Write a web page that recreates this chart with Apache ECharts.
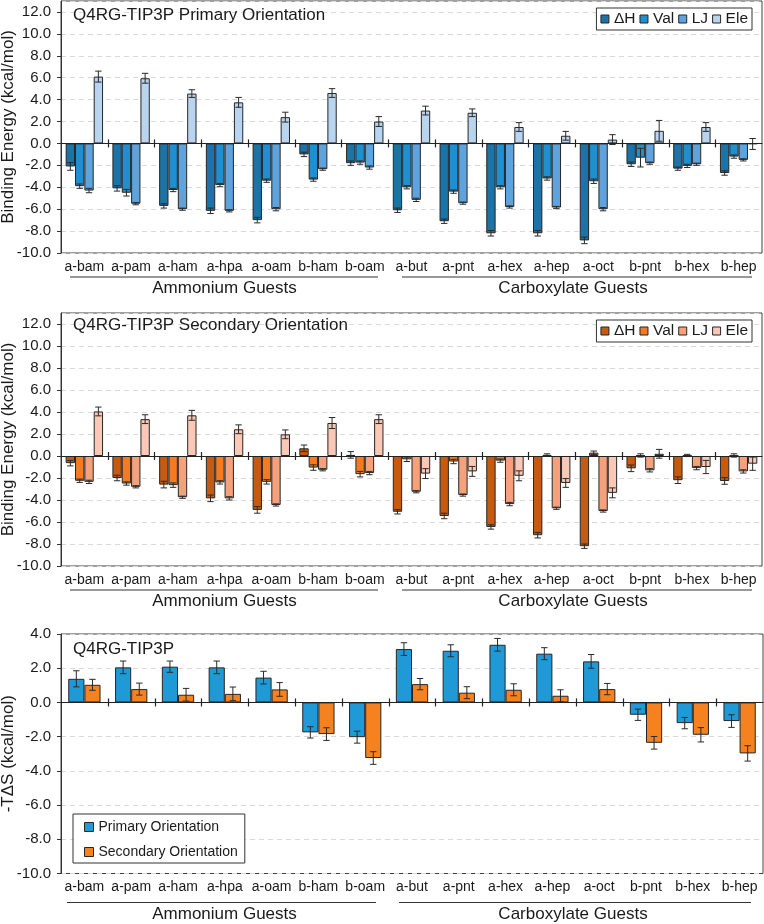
<!DOCTYPE html>
<html><head><meta charset="utf-8">
<script src="https://cdn.jsdelivr.net/npm/echarts@6/dist/echarts.min.js"></script>
<style>html,body{margin:0;padding:0;background:#fff}#c{width:764px;height:924px}</style>
</head><body><div id="c"></div><script>
// ---------- data ----------
const categories = ['a-bam','a-pam','a-ham','a-hpa','a-oam','b-ham','b-oam','a-but','a-pnt','a-hex','a-hep','a-oct','b-pnt','b-hex','b-hep'];
const groupLabels = ['Ammonium Guests','Carboxylate Guests'];
const componentNames = ['ΔH','Val','LJ','Ele'];
const entropyNames = ['Primary Orientation','Secondary Orientation'];
const panelTitles = ['Q4RG-TIP3P Primary Orientation','Q4RG-TIP3P Secondary Orientation','Q4RG-TIP3P'];
const yNames = ['Binding Energy (kcal/mol)','Binding Energy (kcal/mol)','-TΔS (kcal/mol)'];

// Primary orientation components
const priDH     = [-2.1,-4.1,-5.7,-6.15,-7.0,-1.0,-1.8,-6.1,-7.1,-8.2,-8.2,-8.85,-1.9,-2.3,-2.7];
const priDHErr  = [0.35,0.25,0.2,0.25,0.25,0.2,0.2,0.2,0.2,0.25,0.25,0.3,0.2,0.15,0.2];
const priVal    = [-3.9,-4.5,-4.25,-3.8,-3.4,-3.3,-1.75,-4.0,-4.4,-4.0,-3.2,-3.45,-1.3,-2.05,-1.2];
const priValErr = [0.2,0.3,0.15,0.15,0.15,0.15,0.15,0.15,0.15,0.15,0.15,0.2,0.85,0.15,0.15];
const priLJ     = [-4.3,-5.5,-6.0,-6.15,-6.0,-2.35,-2.2,-5.15,-5.45,-5.8,-5.85,-6.0,-1.8,-1.9,-1.5];
const priLJErr  = [0.2,0.1,0.1,0.1,0.15,0.1,0.15,0.15,0.1,0.1,0.1,0.15,0.1,0.1,0.1];
const priEle    = [6.1,5.95,4.55,3.75,2.4,4.6,2.0,3.0,2.8,1.5,0.7,0.35,1.15,1.5,-0.05];
const priEleErr = [0.5,0.45,0.35,0.45,0.45,0.4,0.45,0.4,0.35,0.4,0.4,0.45,0.95,0.4,0.5];

// Secondary orientation components
const secDH     = [-0.65,-2.0,-2.6,-3.85,-4.9,0.7,0.1,-5.07,-5.45,-6.45,-7.2,-8.2,-1.12,-2.2,-2.27];
const secDHErr  = [0.25,0.25,0.3,0.3,0.3,0.3,0.3,0.2,0.25,0.2,0.25,0.2,0.3,0.3,0.3];
const secVal    = [-2.25,-2.5,-2.65,-2.4,-2.35,-1.05,-1.65,-0.3,-0.5,-0.42,0.1,0.3,0.05,0.05,0.05];
const secValErr = [0.15,0.15,0.2,0.15,0.2,0.25,0.25,0.2,0.2,0.15,0.1,0.15,0.15,0.1,0.15];
const secLJ     = [-2.35,-2.8,-3.75,-3.85,-4.45,-1.25,-1.55,-3.25,-3.55,-4.37,-4.75,-5.0,-1.3,-1.1,-1.4];
const secLJErr  = [0.15,0.1,0.1,0.15,0.1,0.1,0.15,0.1,0.1,0.15,0.1,0.1,0.15,0.15,0.15];
const secEle    = [4.05,3.35,3.7,2.43,1.97,3.0,3.35,-1.6,-1.4,-1.8,-2.45,-3.35,0.2,-1.0,-0.7];
const secEleErr = [0.4,0.4,0.45,0.4,0.4,0.5,0.4,0.45,0.45,0.45,0.4,0.45,0.4,0.6,0.6];

// -TΔS
const entPri    = [1.38,2.05,2.09,2.05,1.45,-1.75,-2.03,3.12,3.02,3.37,2.85,2.4,-0.72,-1.21,-1.09];
const entPriErr = [0.47,0.37,0.33,0.37,0.37,0.33,0.35,0.37,0.35,0.37,0.35,0.4,0.33,0.33,0.37];
const entSec    = [1.03,0.78,0.45,0.5,0.76,-1.85,-3.25,1.07,0.57,0.74,0.39,0.78,-2.36,-1.89,-2.98];
const entSecErr = [0.32,0.35,0.37,0.4,0.4,0.37,0.37,0.33,0.35,0.35,0.35,0.33,0.37,0.42,0.45];

// ---------- styles ----------
const FONT = 'Liberation Sans, Arial, sans-serif';
const TXT = '#1a1a1a';
const blues = ['#1b73a6','#1f8fd0','#5ea3dc','#b8d4ef'];
const oranges = ['#c55a11','#f47b20','#f5a27c','#fac8b6'];
const entColors = ['#1f9ad6','#f5821f'];
const grids = [
  {left:61, top:1, width:701, height:252},
  {left:61, top:313, width:701, height:253},
  {left:61, top:634, width:702, height:239.5}
];

const chart = echarts.init(document.getElementById('c'), null, {renderer:'canvas'});

function errSeries(g, vals, errs, k, n, gap) {
  return {
    type:'custom', xAxisIndex:g*2, yAxisIndex:g, z:5, silent:true,
    data: vals.map((v,i)=>[i, v, errs[i]]),
    encode:{x:0, y:1},
    renderItem(params, api) {
      const i = api.value(0), v = api.value(1), e = api.value(2);
      const band = api.size([1,0])[0];
      const inner = band*(1-gap);
      const bw = inner/n;
      const cx = api.coord([i, v])[0] - inner/2 + bw*(k+0.5);
      const y1 = api.coord([i, v+e])[1], y2 = api.coord([i, v-e])[1];
      const cap = 3.2;
      const st = {stroke:'#2a2a2a', lineWidth:1};
      return {type:'group', children:[
        {type:'line', shape:{x1:cx, y1:y1, x2:cx, y2:y2}, style:st},
        {type:'line', shape:{x1:cx-cap, y1:y1, x2:cx+cap, y2:y1}, style:st},
        {type:'line', shape:{x1:cx-cap, y1:y2, x2:cx+cap, y2:y2}, style:st}
      ]};
    }
  };
}
function tickSeries(g) {
  return {
    type:'custom', xAxisIndex:g*2, yAxisIndex:g, z:6, silent:true,
    data: categories.slice(1).map((c,i)=>[i+1, 0]),
    encode:{x:0, y:1},
    renderItem(params, api) {
      const p = api.coord([api.value(0), 0]);
      const x = Math.round(p[0] - api.size([1,0])[0]/2) + 0.5;
      return {type:'line', shape:{x1:x, y1:p[1]-4, x2:x, y2:p[1]+4}, style:{stroke:'#222', lineWidth:1.2}};
    }
  };
}
function barSeries(g, name, vals, color, gap) {
  return {
    type:'bar', name, xAxisIndex:g*2, yAxisIndex:g, data: vals,
    barGap:'0%', barCategoryGap:(gap*100)+'%',
    itemStyle:{color, borderColor:'#262626', borderWidth:1},
    emphasis:{disabled:true}
  };
}

const xAxes = [], yAxes = [];
const yCfg = [{min:-10,max:13,showMax:false},{min:-10,max:13,showMax:false},{min:-10,max:4,showMax:true}];
for (let g=0; g<3; g++) {
  xAxes.push({
    gridIndex:g, type:'category', data:categories, position:'bottom',
    axisLine:{show:false, onZero:false}, axisTick:{show:false},
    axisLabel:{interval:0, fontSize:14, color:TXT, fontFamily:FONT, margin:7},
    splitLine:{show:false}
  });
  xAxes.push({
    gridIndex:g, type:'category', data:categories, position:'top', z:10,
    axisLine:{show:true, onZero:true, lineStyle:{color:'#222', width:1.2}},
    axisTick:{show:false}, axisLabel:{show:false}, splitLine:{show:false}
  });
  yAxes.push({
    gridIndex:g, type:'value', min:yCfg[g].min, max:yCfg[g].max, interval:2,
    name:yNames[g], nameLocation:'middle', nameGap:44, nameMoveOverlap:false,
    nameTextStyle:{fontSize:17, color:TXT, fontFamily:FONT},
    axisLine:{show:true, lineStyle:{color:'#333'}},
    axisTick:{show:true, length:4, lineStyle:{color:'#333'}},
    axisLabel:{fontSize:15, color:TXT, fontFamily:FONT, margin:10, showMaxLabel:yCfg[g].showMax,
      formatter:v=>v.toFixed(1)},
    splitLine:{show:true, lineStyle:{color:'#d9d9d9', type:[5,4]}}
  });
}

const series = [];
const priVals = [priDH, priVal, priLJ, priEle], priErrs = [priDHErr, priValErr, priLJErr, priEleErr];
const secVals = [secDH, secVal, secLJ, secEle], secErrs = [secDHErr, secValErr, secLJErr, secEleErr];
const GAP4 = 0.20, GAP2 = 0.31;
for (let k=0;k<4;k++) series.push(barSeries(0, componentNames[k], priVals[k], blues[k], GAP4));
for (let k=0;k<4;k++) series.push(barSeries(1, componentNames[k]+' #2', secVals[k], oranges[k], GAP4));
series.push(barSeries(2, entropyNames[0], entPri, entColors[0], GAP2));
series.push(barSeries(2, entropyNames[1], entSec, entColors[1], GAP2));
for (let k=0;k<4;k++) series.push(errSeries(0, priVals[k], priErrs[k], k, 4, GAP4));
for (let k=0;k<4;k++) series.push(errSeries(1, secVals[k], secErrs[k], k, 4, GAP4));
series.push(errSeries(2, entPri, entPriErr, 0, 2, GAP2));
series.push(errSeries(2, entSec, entSecErr, 1, 2, GAP2));
for (let g=0; g<3; g++) series.push(tickSeries(g));

const legendBase = {
  selectedMode:false, borderColor:'#333', borderWidth:1, backgroundColor:'#fff',
  itemWidth:8, itemHeight:8, icon:'rect',
  itemStyle:{borderColor:'#262626', borderWidth:1},
  textStyle:{fontSize:15.5, color:TXT, fontFamily:FONT}
};
const legends = [
  Object.assign({}, legendBase, {right:12, top:grids[0].top+7, padding:[3,4], itemGap:4, data:componentNames.slice()}),
  Object.assign({}, legendBase, {right:12, top:grids[1].top+7, padding:[3,4], itemGap:4,
    data:componentNames.map(n=>n+' #2'), formatter:n=>n.replace(' #2','')}),
  Object.assign({}, legendBase, {left:73, top:814, orient:'vertical', padding:[5,7,3,11], itemGap:9,
    itemWidth:9, itemHeight:9, data:entropyNames.slice(),
    textStyle:{fontSize:14, color:TXT, fontFamily:FONT, lineHeight:16}})
];

const titleTops = [7, 317, 641];
const titles = panelTitles.map((t,g)=>({text:t, left:73, top:titleTops[g], padding:0,
  textStyle:{fontSize:17, fontWeight:'normal', color:TXT, fontFamily:FONT}}));

// group labels + underlines
const groupGeom = [
  {lineY:277, textY:288.5, ranges:[[70,378],[402,752]]},
  {lineY:590, textY:601.5, ranges:[[70,378],[402,752]]},
  {lineY:902.5, textY:914, ranges:[[67,376],[399,751]]}
];
const graphics = [];
groupGeom.forEach(gg=>{
  gg.ranges.forEach((r,j)=>{
    graphics.push({type:'line', shape:{x1:r[0], y1:gg.lineY, x2:r[1], y2:gg.lineY}, style:{stroke:'#333', lineWidth:1.2}, silent:true});
  });
  [224.5, 573].forEach((cx,j)=>{
    graphics.push({type:'text', x:cx, y:gg.textY, silent:true,
      style:{text:groupLabels[j], fontSize:17, fontFamily:FONT, fill:TXT, align:'center', verticalAlign:'middle'}});
  });
});

chart.setOption({
  animation:false,
  backgroundColor:'#fff',
  title:titles,
  legend:legends,
  grid:grids.map(g=>Object.assign({show:true, borderColor:'#404040', borderWidth:1, backgroundColor:'transparent',
    containLabel:false, outerBoundsMode:'none'}, g)),
  xAxis:xAxes,
  yAxis:yAxes,
  series:series,
  graphic:graphics
});
</script></body></html>
